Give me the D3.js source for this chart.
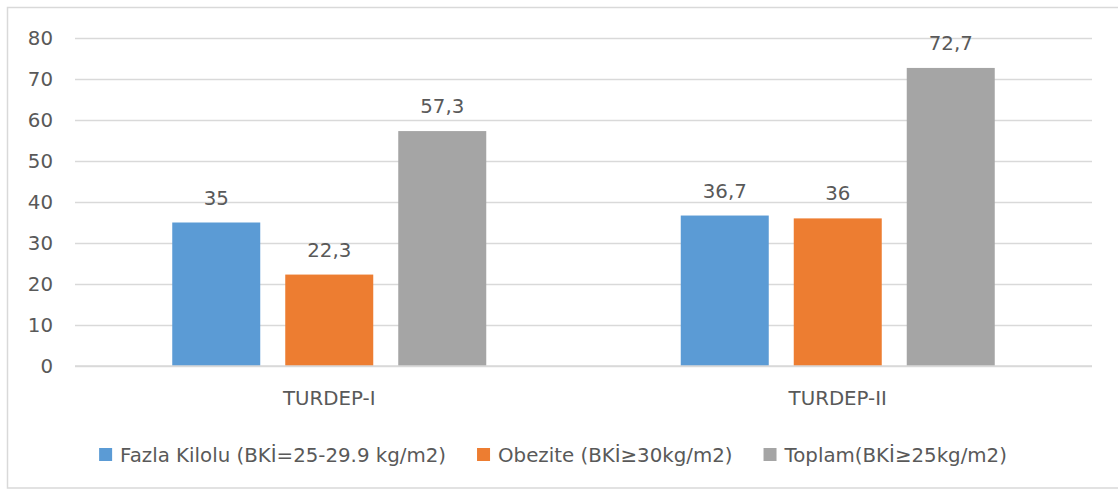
<!DOCTYPE html>
<html>
<head>
<meta charset="utf-8">
<script src="https://cdn.jsdelivr.net/npm/d3@7"></script>
<style>
  html, body { margin: 0; padding: 0; background: #fff; }
  svg { display: block; }
  text { font-family: "DejaVu Sans", sans-serif; fill: #595959; }
</style>
</head>
<body>
<svg id="chart" width="1118" height="490"></svg>
<script>
const categories = ["TURDEP-I", "TURDEP-II"];
const seriesNames = ["Fazla Kilolu (BKİ=25-29.9 kg/m2)", "Obezite (BKİ≥30kg/m2)", "Toplam(BKİ≥25kg/m2)"];
const seriesColors = ["#5B9BD5", "#ED7D31", "#A5A5A5"];
const fazlaKilolu = [35, 36.7];
const obezite = [22.3, 36];
const toplam = [57.3, 72.7];
const yTicks = [0, 10, 20, 30, 40, 50, 60, 70, 80];

const seriesValues = [fazlaKilolu, obezite, toplam];
const fmt = v => String(v).replace(".", ",");

const svg = d3.select("#chart");
const plot = { left: 75, right: 1092, top: 38, bottom: 366 };
const FS = 19.8;

// chart border
svg.append("rect")
  .attr("x", 7.5).attr("y", 7.5)
  .attr("width", 1130).attr("height", 480.5)
  .attr("fill", "none").attr("stroke", "#D9D9D9").attr("stroke-width", 1.5);

const y = d3.scaleLinear().domain([0, 80]).range([plot.bottom, plot.top]);
const x0 = d3.scaleBand().domain(categories).range([plot.left, plot.right]).paddingInner(0).paddingOuter(0);
const groupW = 314;
const x1 = d3.scaleBand().domain(d3.range(seriesNames.length))
  .range([-groupW / 2, groupW / 2]).paddingInner(25 / 113).paddingOuter(0);

// gridlines + y axis labels
const yAxis = d3.axisLeft(y).tickValues(yTicks)
  .tickSize(-(plot.right - plot.left)).tickPadding(22);
const gy = svg.append("g").attr("transform", `translate(${plot.left},0)`).call(yAxis);
gy.select(".domain").remove();
gy.selectAll(".tick line").attr("stroke", "#D9D9D9").attr("stroke-width", 1.3);
gy.selectAll(".tick text").attr("font-size", FS).attr("fill", "#595959")
  .style("font-family", "DejaVu Sans, sans-serif");

// bars
const groups = svg.append("g").selectAll("g")
  .data(categories).join("g")
  .attr("transform", d => `translate(${x0(d) + x0.bandwidth() / 2},0)`);

groups.each(function(cat, ci) {
  const g = d3.select(this);
  seriesValues.forEach((vals, si) => {
    const v = vals[ci];
    g.append("rect")
      .attr("x", x1(si)).attr("y", y(v))
      .attr("width", x1.bandwidth()).attr("height", y(0) - y(v))
      .attr("fill", seriesColors[si]);
    g.append("text")
      .attr("x", x1(si) + x1.bandwidth() / 2).attr("y", y(v) - 18)
      .attr("text-anchor", "middle").attr("font-size", FS)
      .text(fmt(v));
  });
});

// zero line (axis)
svg.append("line")
  .attr("x1", plot.left).attr("x2", plot.right)
  .attr("y1", y(0)).attr("y2", y(0))
  .attr("stroke", "#D9D9D9").attr("stroke-width", 1.5);

// category labels
const xAxis = d3.axisBottom(x0).tickSize(0).tickPadding(0);
const gx = svg.append("g").attr("transform", `translate(0,${plot.bottom})`).call(xAxis);
gx.select(".domain").remove();
gx.selectAll(".tick text").attr("font-size", FS).attr("fill", "#595959")
  .style("font-family", "DejaVu Sans, sans-serif")
  .attr("dy", null).attr("y", 39);

// legend
const legend = svg.append("g");
const items = legend.selectAll("g").data(seriesNames).join("g");
items.append("rect").attr("width", 13).attr("height", 13).attr("y", 448)
  .attr("fill", (d, i) => seriesColors[i]);
items.append("text").attr("x", 21).attr("y", 462).attr("font-size", FS).text(d => d);
let widths = [];
items.each(function() { widths.push(d3.select(this).select("text").node().getComputedTextLength()); });
const gap = 31;
const total = d3.sum(widths.map(w => 21 + w)) + gap * (widths.length - 1);
let cx = 553 - total / 2;
items.each(function(d, i) {
  d3.select(this).attr("transform", `translate(${cx},0)`);
  cx += 21 + widths[i] + gap;
});
</script>
</body>
</html>
